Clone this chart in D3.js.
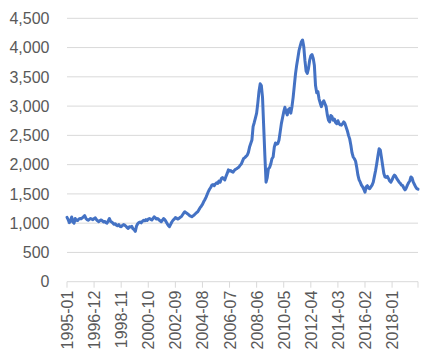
<!DOCTYPE html>
<html>
<head>
<meta charset="utf-8">
<script src="https://cdn.jsdelivr.net/npm/d3@7"></script>
<style>
  html, body { margin: 0; padding: 0; background: #fff; }
  svg { display: block; }
</style>
</head>
<body>
<svg id="chart" width="438" height="364"></svg>
<script>
// Monthly series, 1995-01 .. 2019-11
const startYear = 1995;
const values = [
  // 1995
  1100, 1060, 1010, 1040, 1105, 1020, 1000, 1080, 1050, 1045, 1070, 1080,
  // 1996
  1075, 1090, 1110, 1130, 1085, 1060, 1050, 1065, 1080, 1070, 1060, 1080,
  // 1997
  1090, 1060, 1040, 1025, 1045, 1055, 1040, 1020, 1030, 1010, 1000, 1040,
  // 1998
  1080, 1030, 1020, 1000, 980, 990, 965, 955, 975, 945, 940, 960,
  // 1999
  975, 965, 950, 925, 910, 940, 935, 945, 905, 890, 860, 950,
  // 2000
  990, 1010, 1020, 1005, 1030, 1050, 1040, 1060, 1045, 1070, 1080, 1065,
  // 2001
  1055, 1080, 1110, 1090, 1070, 1080, 1060, 1040, 1025, 1050, 1080, 1060,
  // 2002
  1030, 995, 960, 940, 980, 1020, 1050, 1070, 1095, 1085, 1070, 1080,
  // 2003
  1100, 1110, 1140, 1170, 1195, 1180, 1165, 1150, 1130, 1120, 1110, 1125,
  // 2004
  1140, 1160, 1180, 1195, 1230, 1265, 1290, 1320, 1365, 1400, 1440, 1490,
  // 2005
  1540, 1580, 1610, 1650, 1660, 1640, 1670, 1690, 1680, 1720, 1700, 1760,
  // 2006
  1780, 1760, 1740, 1800, 1850, 1910, 1890, 1900, 1880, 1870, 1900, 1920,
  // 2007
  1930, 1945, 1960, 1990, 2010, 2060, 2105, 2120, 2140, 2160, 2210, 2300,
  // 2008
  2360, 2420, 2650, 2720, 2800, 2880, 3050, 3250, 3380, 3350, 3150, 2650,
  // 2009
  2150, 1700, 1780, 1930, 1950, 2010, 2100, 2130, 2300, 2370, 2350, 2360,
  // 2010
  2420, 2560, 2700, 2800, 2900, 2980, 2900, 2850, 2940, 2960, 2880, 2990,
  // 2011
  3150, 3350, 3550, 3700, 3820, 3950, 4030, 4100, 4130, 4020, 3780, 3600,
  // 2012
  3560, 3640, 3780, 3860, 3880, 3820, 3700, 3350, 3230, 3250, 3120, 3050,
  // 2013
  2990, 3060, 3090, 3040, 2990, 2850, 2760, 2730, 2840, 2820, 2760, 2780,
  // 2014
  2720, 2700, 2750, 2700, 2680, 2675, 2700, 2730, 2700, 2640, 2580, 2500,
  // 2015
  2440, 2330, 2200, 2130, 2100, 2060, 1950, 1820, 1740, 1700, 1650, 1620,
  // 2016
  1580, 1530, 1620, 1640, 1600, 1590, 1620, 1650, 1700, 1800, 1900, 2020,
  // 2017
  2150, 2270, 2250, 2120, 1980, 1850, 1790, 1780, 1800, 1760, 1720, 1700,
  // 2018
  1740, 1790, 1820, 1800, 1760, 1730, 1700, 1680, 1650, 1640, 1600, 1570,
  // 2019
  1600, 1650, 1690, 1720, 1790, 1770, 1700, 1660, 1620, 1590, 1580
];
const categories = values.map((_, i) => {
  const yr = startYear + Math.floor(i / 12);
  const m = (i % 12) + 1;
  return yr + "-" + String(m).padStart(2, "0");
});
const yTicks = [0, 500, 1000, 1500, 2000, 2500, 3000, 3500, 4000, 4500];
const labelEvery = 23;

(function () {
  const svg = d3.select("#chart");
  const mLeft = 67, mRight = 418, mTop = 18.3, mBottom = 281.7;

  const x = d3.scaleLinear().domain([0, categories.length - 1]).range([mLeft, mRight]);
  const y = d3.scaleLinear().domain([0, 4500]).range([mBottom, mTop]);

  const fontFam = "'Liberation Sans', Arial, sans-serif";
  const textColor = "#595959";
  const gridColor = "#D9D9D9";

  // gridlines
  svg.append("g").selectAll("line").data(yTicks.filter(d => d > 0)).enter().append("line")
    .attr("x1", mLeft).attr("x2", mRight)
    .attr("y1", d => y(d)).attr("y2", d => y(d))
    .attr("stroke", gridColor).attr("stroke-width", 1);

  // y labels
  const fmt = d3.format(",");
  svg.append("g").selectAll("text").data(yTicks).enter().append("text")
    .attr("x", 49.5).attr("y", d => y(d)).attr("dy", "0.36em")
    .attr("text-anchor", "end")
    .attr("font-family", fontFam).attr("font-size", 16).attr("fill", textColor)
    .text(d => fmt(d));

  // x axis line and ticks
  svg.append("line").attr("x1", mLeft).attr("x2", mRight)
    .attr("y1", y(0)).attr("y2", y(0))
    .attr("stroke", gridColor).attr("stroke-width", 1);

  const tickIdx = d3.range(0, categories.length, labelEvery);
  const tickPos = tickIdx.map(i => x(i)).concat([mRight]);
  svg.append("g").selectAll("line").data(tickPos).enter().append("line")
    .attr("x1", d => d).attr("x2", d => d)
    .attr("y1", y(0)).attr("y2", y(0) + 6)
    .attr("stroke", gridColor).attr("stroke-width", 1);

  // x labels (rotated)
  svg.append("g").selectAll("text").data(tickIdx).enter().append("text")
    .attr("transform", i => `translate(${x(i) + 6},${y(0) + 9}) rotate(-90)`)
    .attr("text-anchor", "end")
    .attr("font-family", fontFam).attr("font-size", 16).attr("fill", textColor)
    .text(i => categories[i]);

  // series line
  const line = d3.line().x((d, i) => x(i)).y(d => y(d));
  svg.append("path").datum(values)
    .attr("d", line)
    .attr("fill", "none")
    .attr("stroke", "#4472C4")
    .attr("stroke-width", 3)
    .attr("stroke-linejoin", "round")
    .attr("stroke-linecap", "round");
})();
</script>
</body>
</html>
